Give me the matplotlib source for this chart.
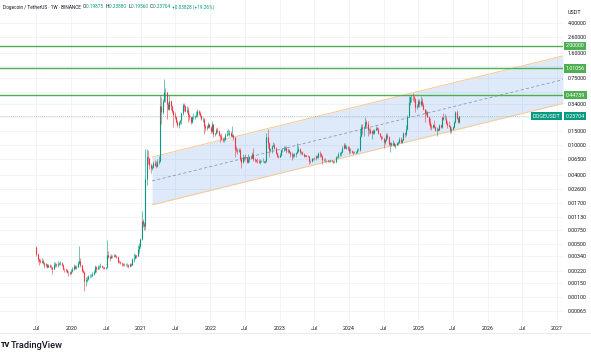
import numpy as np
import pandas as pd
import matplotlib
matplotlib.use("Agg")
import matplotlib.pyplot as plt
import matplotlib.dates as mdates
from matplotlib.lines import Line2D
from matplotlib.transforms import blended_transform_factory

plt.rcParams['font.family'] = ['Roboto', 'DejaVu Sans']

# DOGEUSDT weekly candles (Binance). open = previous close
first_week = '2019-07-01'
first_open = 0.0045

close_2019 = [0.00370, 0.00310, 0.00300, 0.00290, 0.00300, 0.00280, 0.00260, 0.00270, 0.00250,
              0.00260, 0.00250, 0.00245, 0.00235, 0.00260, 0.00270, 0.00260, 0.00270, 0.00275,
              0.00280, 0.00265, 0.00235, 0.00230, 0.00225, 0.00215, 0.00210, 0.00205, 0.00220]
high_2019 = [0.00470, 0.00380, 0.00320, 0.00310, 0.00320, 0.00310, 0.00290, 0.00280, 0.00270,
             0.00270, 0.00270, 0.00260, 0.00250, 0.00290, 0.00290, 0.00275, 0.00300, 0.00290,
             0.00300, 0.00285, 0.00270, 0.00240, 0.00235, 0.00230, 0.00220, 0.00215, 0.00230]
low_2019 = [0.00340, 0.00290, 0.00260, 0.00280, 0.00280, 0.00270, 0.00240, 0.00250, 0.00240,
            0.00245, 0.00245, 0.00235, 0.00200, 0.00230, 0.00250, 0.00250, 0.00245, 0.00260,
            0.00265, 0.00255, 0.00225, 0.00215, 0.00215, 0.00205, 0.00190, 0.00195, 0.00200]

close_2020 = [0.00230, 0.00255, 0.00240, 0.00250, 0.00280, 0.00300, 0.00260, 0.00220, 0.00215,
              0.00160, 0.00165, 0.00170, 0.00185, 0.00185, 0.00190, 0.00200, 0.00210, 0.00245,
              0.00235, 0.00245, 0.00250, 0.00255, 0.00250, 0.00245, 0.00240, 0.00245, 0.00360,
              0.00335, 0.00320, 0.00345, 0.00340, 0.00350, 0.00340, 0.00330, 0.00290, 0.00285,
              0.00280, 0.00270, 0.00265, 0.00265, 0.00265, 0.00260, 0.00255, 0.00270, 0.00265,
              0.00310, 0.00320, 0.00355, 0.00345, 0.00420, 0.00460, 0.00570]
high_2020 = [0.00245, 0.00270, 0.00265, 0.00260, 0.00300, 0.00460, 0.00320, 0.00265, 0.00230,
             0.00220, 0.00180, 0.00185, 0.00195, 0.00200, 0.00200, 0.00210, 0.00225, 0.00260,
             0.00255, 0.00260, 0.00265, 0.00280, 0.00265, 0.00255, 0.00250, 0.00250, 0.00560,
             0.00400, 0.00350, 0.00365, 0.00360, 0.00365, 0.00370, 0.00350, 0.00345, 0.00305,
             0.00300, 0.00285, 0.00275, 0.00275, 0.00275, 0.00275, 0.00270, 0.00280, 0.00280,
             0.00325, 0.00380, 0.00370, 0.00360, 0.00480, 0.00510, 0.00600]
low_2020 = [0.00215, 0.00225, 0.00230, 0.00235, 0.00245, 0.00270, 0.00245, 0.00210, 0.00205,
            0.00120, 0.00140, 0.00155, 0.00165, 0.00175, 0.00180, 0.00185, 0.00195, 0.00205,
            0.00215, 0.00235, 0.00235, 0.00245, 0.00240, 0.00235, 0.00230, 0.00235, 0.00240,
            0.00320, 0.00300, 0.00320, 0.00325, 0.00335, 0.00330, 0.00320, 0.00275, 0.00275,
            0.00270, 0.00255, 0.00255, 0.00255, 0.00255, 0.00250, 0.00240, 0.00250, 0.00255,
            0.00260, 0.00285, 0.00315, 0.00320, 0.00340, 0.00380, 0.00440]

close_2021 = [0.0099, 0.0090, 0.0085, 0.0350, 0.0700, 0.0660, 0.0540, 0.0500, 0.0510, 0.0580,
              0.0550, 0.0530, 0.0600, 0.0620, 0.3200, 0.2700, 0.3800, 0.5000, 0.5000, 0.3400,
              0.3000, 0.3800, 0.3200, 0.2800, 0.2500, 0.2300, 0.2000, 0.1800, 0.2000, 0.2100,
              0.2600, 0.3300, 0.3200, 0.2800, 0.2900, 0.2500, 0.2300, 0.2000, 0.2300, 0.2300,
              0.2400, 0.2500, 0.2800, 0.2650, 0.2500, 0.2200, 0.2200, 0.1750, 0.1650, 0.1700,
              0.1850, 0.1700]
high_2021 = [0.0135, 0.0105, 0.0095, 0.0870, 0.0870, 0.0850, 0.0660, 0.0580, 0.0540, 0.0610,
             0.0640, 0.0620, 0.0650, 0.0720, 0.4500, 0.4200, 0.3950, 0.7400, 0.5600, 0.5000,
             0.3700, 0.4500, 0.3900, 0.3300, 0.2900, 0.2700, 0.2400, 0.2100, 0.2050, 0.2150,
             0.2700, 0.3500, 0.3500, 0.3300, 0.3200, 0.3100, 0.2600, 0.2400, 0.2400, 0.2600,
             0.2500, 0.2800, 0.3000, 0.2850, 0.2750, 0.2500, 0.2300, 0.2250, 0.1850, 0.1800,
             0.2000, 0.1900]
low_2021 = [0.0056, 0.0082, 0.0076, 0.0076, 0.0300, 0.0560, 0.0480, 0.0420, 0.0460, 0.0490,
            0.0530, 0.0500, 0.0510, 0.0560, 0.0600, 0.1900, 0.2550, 0.3700, 0.3700, 0.2200,
            0.2900, 0.2900, 0.2900, 0.2600, 0.1700, 0.2200, 0.1950, 0.1700, 0.1650, 0.1900,
            0.1900, 0.2500, 0.2800, 0.2700, 0.2600, 0.2000, 0.2100, 0.1900, 0.1950, 0.2200,
            0.2200, 0.2300, 0.2300, 0.2500, 0.2350, 0.2100, 0.2000, 0.1400, 0.1500, 0.1550,
            0.1650, 0.1650]

close_2022 = [0.1500, 0.1850, 0.1400, 0.1420, 0.1550, 0.1500, 0.1350, 0.1300, 0.1200, 0.1150,
              0.1200, 0.1350, 0.1400, 0.1400, 0.1450, 0.1300, 0.1350, 0.1250, 0.0870, 0.0850,
              0.0820, 0.0850, 0.0650, 0.0600, 0.0700, 0.0680, 0.0690, 0.0600, 0.0650, 0.0700,
              0.0680, 0.0750, 0.0650, 0.0630, 0.0620, 0.0610, 0.0600, 0.0610, 0.0610, 0.0620,
              0.0590, 0.0620, 0.1250, 0.1050, 0.0850, 0.0870, 0.0950, 0.1000, 0.0900, 0.0780,
              0.0720, 0.0700]
high_2022 = [0.1750, 0.2050, 0.1900, 0.1450, 0.1650, 0.1700, 0.1550, 0.1380, 0.1450, 0.1250,
             0.1250, 0.1450, 0.1550, 0.1600, 0.1550, 0.1500, 0.1750, 0.1400, 0.1250, 0.0950,
             0.0900, 0.0900, 0.0900, 0.0700, 0.0750, 0.0720, 0.0750, 0.0700, 0.0750, 0.0720,
             0.0720, 0.0800, 0.0900, 0.0680, 0.0650, 0.0660, 0.0650, 0.0650, 0.0640, 0.0660,
             0.0620, 0.0640, 0.1450, 0.1590, 0.1100, 0.0900, 0.1000, 0.1100, 0.1050, 0.0940,
             0.0800, 0.0740]
low_2022 = [0.1450, 0.1450, 0.1250, 0.1300, 0.1380, 0.1450, 0.1300, 0.1100, 0.1150, 0.1100,
            0.1100, 0.1150, 0.1300, 0.1350, 0.1300, 0.1300, 0.1250, 0.1150, 0.0700, 0.0800,
            0.0750, 0.0800, 0.0620, 0.0500, 0.0580, 0.0620, 0.0640, 0.0580, 0.0580, 0.0600,
            0.0650, 0.0680, 0.0620, 0.0600, 0.0600, 0.0580, 0.0580, 0.0560, 0.0590, 0.0590,
            0.0570, 0.0580, 0.0590, 0.0900, 0.0700, 0.0800, 0.0790, 0.0950, 0.0880, 0.0760,
            0.0690, 0.0680]

close_2023 = [0.0730, 0.0860, 0.0860, 0.0880, 0.0920, 0.0820, 0.0860, 0.0800, 0.0760, 0.0720,
              0.0740, 0.0750, 0.0780, 0.0830, 0.0870, 0.0800, 0.0800, 0.0760, 0.0720, 0.0730,
              0.0720, 0.0710, 0.0620, 0.0610, 0.0660, 0.0670, 0.0660, 0.0710, 0.0700, 0.0780,
              0.0750, 0.0720, 0.0630, 0.0640, 0.0630, 0.0630, 0.0610, 0.0620, 0.0630, 0.0610,
              0.0590, 0.0600, 0.0690, 0.0700, 0.0750, 0.0780, 0.0800, 0.0900, 0.1000, 0.0920,
              0.0930, 0.0900]
high_2023 = [0.0780, 0.0880, 0.0900, 0.0960, 0.0960, 0.0950, 0.0920, 0.0890, 0.0820, 0.0800,
             0.0780, 0.0780, 0.0800, 0.1050, 0.0950, 0.0900, 0.0820, 0.0820, 0.0780, 0.0740,
             0.0740, 0.0740, 0.0720, 0.0640, 0.0680, 0.0680, 0.0700, 0.0740, 0.0740, 0.0800,
             0.0820, 0.0780, 0.0730, 0.0660, 0.0680, 0.0640, 0.0640, 0.0640, 0.0640, 0.0640,
             0.0620, 0.0640, 0.0720, 0.0720, 0.0800, 0.0800, 0.0820, 0.0950, 0.1060, 0.1050,
             0.0990, 0.0950]
low_2023 = [0.0690, 0.0720, 0.0800, 0.0840, 0.0860, 0.0780, 0.0780, 0.0780, 0.0700, 0.0640,
            0.0680, 0.0700, 0.0700, 0.0770, 0.0800, 0.0760, 0.0760, 0.0740, 0.0700, 0.0710,
            0.0700, 0.0700, 0.0560, 0.0580, 0.0600, 0.0640, 0.0640, 0.0640, 0.0680, 0.0680,
            0.0700, 0.0700, 0.0560, 0.0620, 0.0600, 0.0600, 0.0590, 0.0600, 0.0600, 0.0600,
            0.0570, 0.0580, 0.0590, 0.0670, 0.0680, 0.0710, 0.0720, 0.0780, 0.0880, 0.0900,
            0.0880, 0.0860]

close_2024 = [0.0820, 0.0830, 0.0800, 0.0790, 0.0790, 0.0800, 0.0860, 0.0860, 0.1300, 0.1700,
              0.1650, 0.1700, 0.2000, 0.1900, 0.1550, 0.1550, 0.1450, 0.1500, 0.1450, 0.1550,
              0.1650, 0.1600, 0.1420, 0.1300, 0.1230, 0.1220, 0.1080, 0.1150, 0.1350, 0.1250,
              0.1020, 0.1050, 0.1000, 0.1050, 0.0970, 0.1000, 0.1040, 0.1080, 0.1180, 0.1100,
              0.1170, 0.1420, 0.1370, 0.1620, 0.2350, 0.3600, 0.4300, 0.4300, 0.4200, 0.3950,
              0.3150, 0.3200, 0.3800]
high_2024 = [0.0950, 0.0920, 0.0850, 0.0820, 0.0820, 0.0830, 0.0900, 0.0900, 0.1600, 0.1900,
             0.1850, 0.1750, 0.2300, 0.2150, 0.2050, 0.1650, 0.1650, 0.1550, 0.1600, 0.1600,
             0.1750, 0.1700, 0.1700, 0.1450, 0.1320, 0.1300, 0.1240, 0.1200, 0.1450, 0.1420,
             0.1300, 0.1100, 0.1100, 0.1150, 0.1080, 0.1020, 0.1080, 0.1120, 0.1250, 0.1250,
             0.1200, 0.1480, 0.1460, 0.1800, 0.2500, 0.4400, 0.4400, 0.4500, 0.4850, 0.4500,
             0.4100, 0.3450, 0.4000]
low_2024 = [0.0750, 0.0770, 0.0780, 0.0750, 0.0770, 0.0770, 0.0790, 0.0830, 0.0840, 0.1250,
            0.1400, 0.1300, 0.1650, 0.1700, 0.1300, 0.1400, 0.1430, 0.1200, 0.1400, 0.1400,
            0.1550, 0.1550, 0.1380, 0.1250, 0.1150, 0.1180, 0.0900, 0.1020, 0.1130, 0.1200,
            0.0980, 0.0800, 0.0970, 0.0980, 0.0950, 0.0920, 0.0980, 0.1000, 0.1070, 0.1040,
            0.1050, 0.1150, 0.1270, 0.1300, 0.1580, 0.2300, 0.3300, 0.3700, 0.3800, 0.3600,
            0.2700, 0.3000, 0.3100]

close_2025 = [0.3400, 0.3800, 0.3350, 0.3000, 0.2600, 0.2700, 0.2350, 0.2000, 0.1750, 0.1700,
              0.1800, 0.1700, 0.1550, 0.1600, 0.1580, 0.1800, 0.1700, 0.2300, 0.2200, 0.2200,
              0.1950, 0.1800, 0.1750, 0.1550, 0.1600, 0.1700, 0.1970, 0.2700, 0.2250, 0.19875,
              0.23704]
high_2025 = [0.4050, 0.4350, 0.4100, 0.3500, 0.3000, 0.2900, 0.2750, 0.2400, 0.2250, 0.1900,
             0.1900, 0.2100, 0.1750, 0.1700, 0.1650, 0.1900, 0.1850, 0.2350, 0.2600, 0.2550,
             0.2400, 0.2050, 0.2050, 0.1800, 0.1700, 0.1750, 0.2050, 0.2800, 0.2870, 0.2350,
             0.23880]
low_2025 = [0.3100, 0.3200, 0.3200, 0.2900, 0.2000, 0.2450, 0.2300, 0.1800, 0.1600, 0.1550,
            0.1650, 0.1650, 0.1520, 0.1300, 0.1520, 0.1550, 0.1650, 0.1650, 0.2100, 0.2150,
            0.1850, 0.1650, 0.1700, 0.1450, 0.1450, 0.1550, 0.1650, 0.1950, 0.2200, 0.1950,
            0.19560]

# drawings on the chart
channel_dates = ['2021-03-01', '2027-02-01']
channel_upper = [0.069, 1.48]
channel_lower = [0.0162, 0.35]
level_prices = [2.0, 1.01056, 0.44739]
level_labels = ['2.00000', '1.01056', '0.44739']
last_price = 0.23704

price_ticks = [4.0, 2.6, 1.6, 1.1, 0.75, 0.5, 0.34, 0.23, 0.15, 0.10, 0.065, 0.04, 0.026,
               0.017, 0.0113, 0.0075, 0.005, 0.0034, 0.0022, 0.0015, 0.001, 0.00065]
hidden_ticks = [1.1, 0.5, 0.23]   # covered by the price labels
time_ticks = ['2019-07-01', '2020-01-01', '2020-07-01', '2021-01-01', '2021-07-01', '2022-01-01',
              '2022-07-01', '2023-01-01', '2023-07-01', '2024-01-01', '2024-07-01', '2025-01-01',
              '2025-07-01', '2026-01-01', '2026-07-01', '2027-01-01']
time_labels = ['Jul', '2020', 'Jul', '2021', 'Jul', '2022', 'Jul', '2023', 'Jul', '2024',
               'Jul', '2025', 'Jul', '2026', 'Jul', '2027']

UP = '#089981'
DOWN = '#f23645'
GREEN = '#4caf50'
TEXT = '#131722'
GRID = '#f0f2f6'

closes = np.array(close_2019 + close_2020 + close_2021 + close_2022 + close_2023 + close_2024 + close_2025)
highs = np.array(high_2019 + high_2020 + high_2021 + high_2022 + high_2023 + high_2024 + high_2025)
lows = np.array(low_2019 + low_2020 + low_2021 + low_2022 + low_2023 + low_2024 + low_2025)
opens = np.concatenate([[first_open], closes[:-1]])
dates = pd.date_range(first_week, periods=len(closes), freq='W-MON')
x = mdates.date2num(dates.values)


def dnum(s):
    return mdates.date2num(np.datetime64(s))


fig = plt.figure(figsize=(5.91, 3.55), dpi=100)
fig.patch.set_facecolor('white')
ax = fig.add_axes([0, 32 / 355, 563 / 591, 323 / 355])
ax.set_yscale('log')
ax.set_xlim(dnum('2018-12-21'), dnum('2027-02-01'))
ax.set_ylim(0.000452, 8.03)
for s in ax.spines.values():
    s.set_visible(False)

# grid
ax.set_xticks([dnum(d) for d in time_ticks])
ax.set_xticklabels(time_labels)
ax.set_yticks(price_ticks)
ax.set_yticklabels(['' if v in hidden_ticks else '%.5f' % v for v in price_ticks])
ax.yaxis.set_minor_locator(matplotlib.ticker.NullLocator())
ax.yaxis.tick_right()
ax.tick_params(axis='y', length=0, pad=3.2, labelsize=3.9, labelcolor=TEXT)
ax.tick_params(axis='x', length=0, pad=1.8, labelsize=3.8, labelcolor=TEXT)
ax.grid(True, color=GRID, lw=0.6)
ax.set_axisbelow(True)

# parallel channel
cx = [dnum(d) for d in channel_dates]
mid = np.sqrt(np.array(channel_upper) * np.array(channel_lower))
ax.fill_between(cx, channel_lower, channel_upper, color='#3d7fe0', alpha=0.17, lw=0, zorder=1)
ax.plot(cx, channel_upper, color='#f6cc95', lw=0.75, zorder=2)
ax.plot(cx, channel_lower, color='#f6cc95', lw=0.75, zorder=2)
ax.plot(cx, mid, color='#8593b3', lw=0.55, ls=(0, (4, 3)), zorder=2)

# horizontal levels
for p in level_prices:
    ax.axhline(p, color=GREEN, lw=1.0, zorder=3)
ax.axhline(last_price, color='#9cbdb9', lw=0.6, ls=(0, (1, 1.5)), zorder=3)

# candles
col = np.where(closes >= opens, UP, DOWN)
ax.vlines(x, lows, highs, colors=col, lw=0.4, zorder=4)
ax.vlines(x, np.minimum(opens, closes), np.maximum(opens, closes), colors=col, lw=0.8, zorder=5)

# price labels on the right
right = blended_transform_factory(ax.transAxes, ax.transData)
for p, lab in zip(level_prices, level_labels):
    ax.text(1.0 + 2.5 / 563, p, lab, transform=right, ha='left', va='center', fontsize=3.9,
            color='white', clip_on=False, zorder=10,
            bbox=dict(boxstyle='square,pad=0.3', fc=GREEN, ec='none'))
ax.text(1.0 + 2.5 / 563, last_price, '0.23704', transform=right, ha='left', va='center',
        fontsize=3.9, color='white', clip_on=False, zorder=10,
        bbox=dict(boxstyle='square,pad=0.3', fc=UP, ec='none'))
ax.text(1.0 - 3 / 563, last_price, 'DOGEUSDT', transform=right, ha='right', va='center',
        fontsize=3.9, color='white', clip_on=False, zorder=10,
        bbox=dict(boxstyle='square,pad=0.3', fc=UP, ec='none'))

fig.text(568 / 591, 1 - 13 / 355, 'USDT', fontsize=3.9, color=TEXT, va='center')

# header line, pieces chained one after another
parts = [('Dogecoin / TetherUS · 1W · BINANCE  ', TEXT), ('O', TEXT), ('0.19875  ', UP),
         ('H', TEXT), ('0.23880  ', UP), ('L', TEXT), ('0.19560  ', UP), ('C', TEXT),
         ('0.23704  ', UP), ('+0.03828 (+19.26%)', UP)]
prev = fig.text(3 / 591, 1 - 7 / 355, parts[0][0], fontsize=3.4, color=parts[0][1], va='center')
for txt, c in parts[1:]:
    prev = ax.annotate(txt, xy=(1, 0), xycoords=prev, va='bottom', ha='left',
                       fontsize=3.4, color=c, annotation_clip=False)

# bottom border and logo
fig.add_artist(Line2D([0, 1], [1 - 333 / 355] * 2, transform=fig.transFigure, color='#e0e3eb', lw=0.5))
fig.text(0.5 / 591, 1 - 345 / 355, 'TV', fontsize=5.2, weight='heavy', color=TEXT, va='center')
fig.text(11 / 591, 1 - 345 / 355, 'TradingView', fontsize=6.7, weight='medium', color=TEXT, va='center')

fig.savefig('out.png', dpi=100, facecolor='white')
